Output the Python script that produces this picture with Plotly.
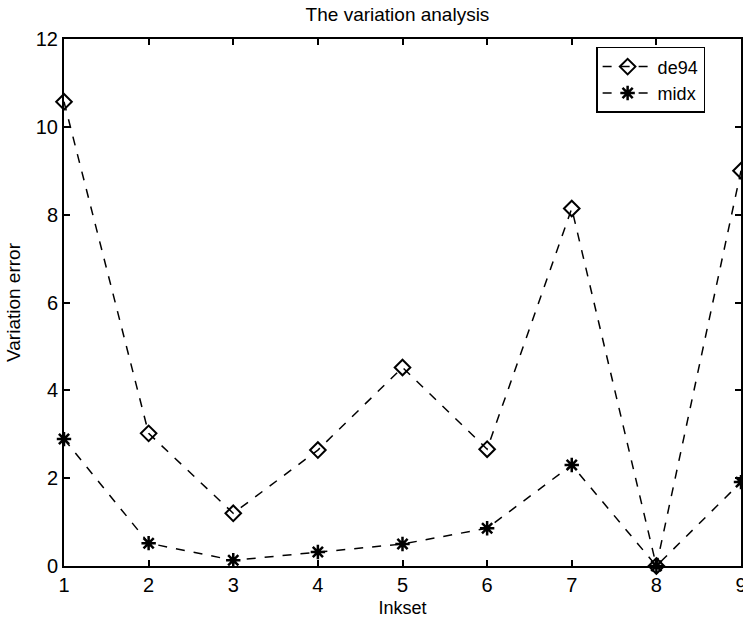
import plotly.graph_objects as go

inkset = [1, 2, 3, 4, 5, 6, 7, 8, 9]
de94 = [10.57, 3.02, 1.2, 2.64, 4.52, 2.66, 8.14, 0.0, 9.0]
midx = [2.89, 0.52, 0.13, 0.32, 0.5, 0.86, 2.3, 0.0, 1.91]
x_ticks = [1, 2, 3, 4, 5, 6, 7, 8, 9]
y_ticks = [0, 2, 4, 6, 8, 10, 12]

FONT = "Liberation Sans Narrow, Arial Narrow, Liberation Sans, Arial"

fig = go.Figure()
fig.add_trace(go.Scatter(
    x=inkset, y=de94, name="de94", mode="lines+markers",
    line=dict(color="black", width=1.5, dash="dash"),
    marker=dict(symbol="diamond-open", size=12, color="black", line=dict(width=2, color="black")),
    cliponaxis=False,
))
fig.add_trace(go.Scatter(
    x=inkset, y=midx, name="midx", mode="lines+markers",
    line=dict(color="black", width=1.5, dash="dash"),
    marker=dict(symbol="asterisk-open", size=12, color="black", line=dict(width=2.5, color="black")),
    cliponaxis=False,
))

axis_common = dict(
    showgrid=False, zeroline=False, showline=True, linecolor="black", linewidth=2,
    mirror="ticks", ticks="inside", ticklen=6, tickwidth=1.5, tickcolor="black",
    tickfont=dict(family=FONT, size=20, color="black"), automargin=False,
    ticklabeloverflow="allow",
)
fig.update_xaxes(range=[1, 9], tickvals=x_ticks,
                 title=dict(text="Inkset", font=dict(family=FONT, size=18, color="black"), standoff=6),
                 **axis_common)
fig.update_yaxes(range=[0, 12], tickvals=y_ticks,
                 title=dict(text="Variation error", font=dict(family=FONT, size=19, color="black"), standoff=10),
                 **axis_common)

fig.update_layout(
    width=743, height=625,
    paper_bgcolor="white", plot_bgcolor="white",
    margin=dict(l=64, r=2, t=39, b=59),
    title=dict(text="The variation analysis", x=0.535, xanchor="center", y=0.977, yanchor="middle",
               font=dict(family=FONT, size=19, color="black")),
    showlegend=True,
    legend=dict(x=0.786, y=0.985, xanchor="left", yanchor="top",
                bordercolor="black", borderwidth=1.5, bgcolor="white",
                font=dict(family=FONT, size=18, color="black"),
                itemwidth=50, tracegroupgap=0),
)

fig.write_html("out.html", config={"displayModeBar": False},
               post_script="document.body.style.margin='0';document.body.style.overflow='hidden';")
